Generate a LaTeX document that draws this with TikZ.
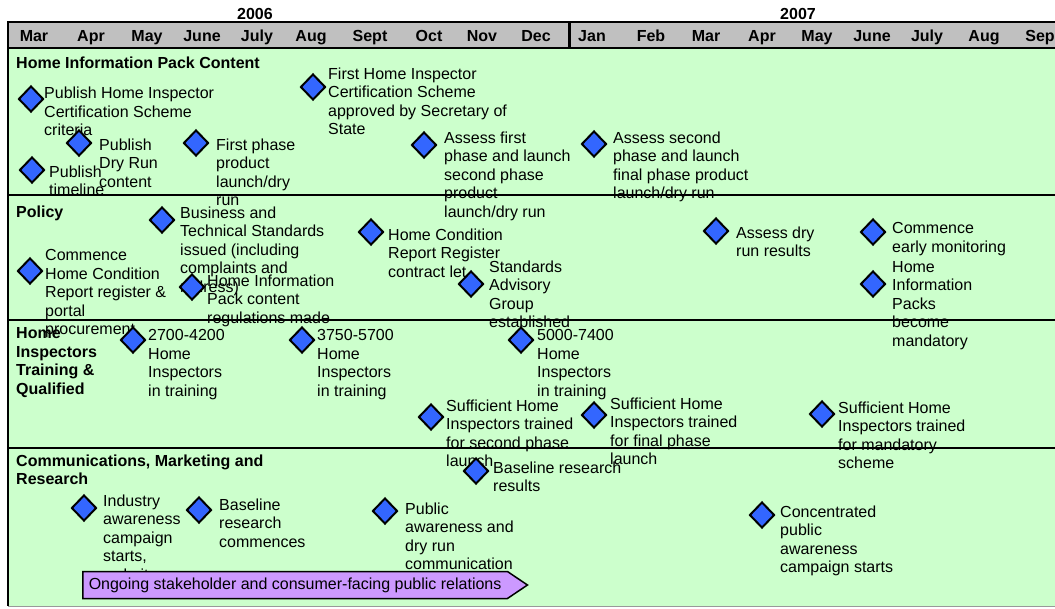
\documentclass[tikz,border=0pt]{standalone}
\usepackage{fontspec}
\setmainfont{Liberation Sans}
\usetikzlibrary{shapes.geometric,shapes.symbols}

\definecolor{hdrgray}{HTML}{C0C0C0}
\definecolor{bandgreen}{HTML}{CCFFCC}
\definecolor{msblue}{HTML}{3366FF}
\definecolor{prlilac}{HTML}{CC99FF}

\begin{document}
\begin{tikzpicture}[x=1pt, y=-1pt,
    every node/.style={font=\fontsize{16}{18.5}\selectfont},
    sepline/.style={line width=2pt, black},
    ms/.style={diamond, draw=black, line width=2pt, fill=msblue, minimum width=25pt, minimum height=26pt, inner sep=0pt},
    mstext/.style={anchor=north west, yshift=11.6pt, align=left, inner sep=0pt},
    bandtitle/.style={anchor=north west, yshift=11.6pt, align=left, inner sep=0pt, font=\fontsize{16}{18.5}\selectfont\bfseries},
    month/.style={anchor=base, inner sep=0pt, font=\fontsize{16}{18.5}\selectfont\bfseries},
    prarrow/.style={signal, signal to=east, signal pointer angle=68, draw=black, line width=1.5pt, fill=prlilac, minimum height=27pt, inner xsep=6pt, inner ysep=0pt}
]
\useasboundingbox (0,0) rectangle (1055,608);

% background of header and bands
\fill[hdrgray] (8,22) rectangle (1056,48);
\fill[bandgreen] (8,48) rectangle (1056,606);

% years and months
\node[month] (y2006) at (255,19.5) {2006};
\node[month] (y2007) at (798,19.5) {2007};
\foreach \mx/\mname [count=\mi] in {34/Mar, 91/Apr, 147/May, 202/June, 257/July, 311/Aug, 370/Sept, 429/Oct, 482/Nov, 536/Dec, 592/Jan, 651/Feb, 706/Mar, 762/Apr, 817/May, 872/June, 927/July, 984/Aug, 1040/Sep}
    \node[month] (m\mi) at (\mx,41) {\mname};

% band titles
\node[bandtitle] (t1) at (16,68) {Home Information Pack Content};
\node[bandtitle] (t2) at (16,217) {Policy};
\node[bandtitle] (t3) at (16,339) {Home\\Inspectors\\Training \&\\Qualified};
\node[bandtitle] (t4) at (16,466) {Communications, Marketing and\\Research};

% Home Information Pack Content
\node[ms] (hip1) at (31,99) {};
\node[mstext] (hip1t) at (44,98.5) {Publish Home Inspector\\Certification Scheme\\criteria};
\node[ms] (hip2) at (79,143) {};
\node[mstext] (hip2t) at (99,150) {Publish\\Dry Run\\content};
\node[ms] (hip3) at (32,170) {};
\node[mstext] (hip3t) at (49,177) {Publish\\timeline};
\node[ms] (hip4) at (196,143) {};
\node[mstext] (hip4t) at (216,150) {First phase\\product\\launch/dry\\run};
\node[ms] (hip5) at (313,87) {};
\node[mstext] (hip5t) at (328,79) {First Home Inspector\\Certification Scheme\\approved by Secretary of\\State};
\node[ms] (hip6) at (424,145) {};
\node[mstext] (hip6t) at (444,143) {Assess first\\phase and launch\\second phase\\product\\launch/dry run};
\node[ms] (hip7) at (594,144) {};
\node[mstext] (hip7t) at (613,143) {Assess second\\phase and launch\\final phase product\\launch/dry run};

% Policy
\node[ms] (pol1) at (30,271) {};
\node[mstext] (pol1t) at (45,261) {Commence\\Home Condition\\Report register \&\\portal\\procurement};
\node[ms] (pol2) at (162,220) {};
\node[mstext] (pol2t) at (180,218) {Business and\\Technical Standards\\issued (including\\complaints and\\redress)};
\node[ms] (pol3) at (192,287) {};
\node[mstext] (pol3t) at (207,286) {Home Information\\Pack content\\regulations made};
\node[ms] (pol4) at (371,232) {};
\node[mstext] (pol4t) at (388,240) {Home Condition\\Report Register\\contract let};
\node[ms] (pol5) at (471,284) {};
\node[mstext] (pol5t) at (489,272) {Standards\\Advisory\\Group\\established};
\node[ms] (pol6) at (716,231) {};
\node[mstext] (pol6t) at (736,238) {Assess dry\\run results};
\node[ms] (pol7) at (873,232) {};
\node[mstext] (pol7t) at (892,234) {Commence\\early monitoring};
\node[ms] (pol8) at (873,284) {};
\node[mstext] (pol8t) at (892,272.5) {Home\\Information\\Packs\\become\\mandatory};

% Home Inspectors Training & Qualified
\node[ms] (trn1) at (133,340) {};
\node[mstext] (trn1t) at (148,341) {2700-4200\\Home\\Inspectors\\in training};
\node[ms] (trn2) at (302,340) {};
\node[mstext] (trn2t) at (317,341) {3750-5700\\Home\\Inspectors\\in training};
\node[ms] (trn3) at (521,340) {};
\node[mstext] (trn3t) at (537,341) {5000-7400\\Home\\Inspectors\\in training};
\node[ms] (trn4) at (431,417) {};
\node[mstext] (trn4t) at (446,411) {Sufficient Home\\Inspectors trained\\for second phase\\launch};
\node[ms] (trn5) at (594,415) {};
\node[mstext] (trn5t) at (610,409) {Sufficient Home\\Inspectors trained\\for final phase\\launch};
\node[ms] (trn6) at (822,414) {};
\node[mstext] (trn6t) at (838,413) {Sufficient Home\\Inspectors trained\\for mandatory\\scheme};

% Communications, Marketing and Research
\node[ms] (com1) at (476,471) {};
\node[mstext] (com1t) at (493,473) {Baseline research\\results};
\node[ms] (com2) at (84,508) {};
\node[mstext] (com2t) at (103,506) {Industry\\awareness\\campaign\\starts,\\website};
\node[ms] (com3) at (199,510) {};
\node[mstext] (com3t) at (219,510) {Baseline\\research\\commences};
\node[ms] (com4) at (385,511) {};
\node[mstext] (com4t) at (405,514) {Public\\awareness and\\dry run\\communication};
\node[ms] (com5) at (762,515) {};
\node[mstext] (com5t) at (780,517) {Concentrated\\public\\awareness\\campaign starts};

% frame and band borders
\draw[line width=2.5pt] (1056,22) -- (8,22) -- (8,606);
\foreach \sy in {48,195,320,448}
    \draw[sepline] (8,\sy) -- (1056,\sy);
\draw[line width=3pt] (569,22) -- (569,48);
\draw[black!40, line width=1pt] (8,606.5) -- (1056,606.5);

\node[prarrow, anchor=west] (pr) at (82,585) {Ongoing stakeholder and consumer-facing public relations};

\end{tikzpicture}
\end{document}
